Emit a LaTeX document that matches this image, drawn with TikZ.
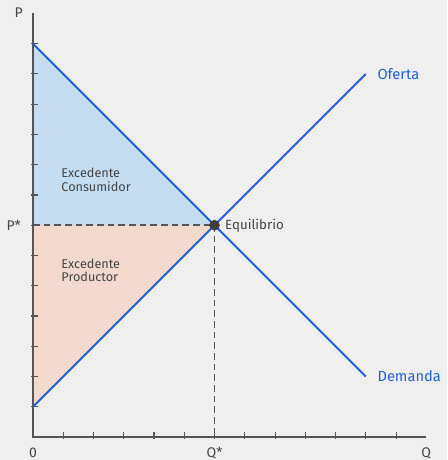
\documentclass[tikz,border=0pt]{standalone}
\usepackage{fontspec}
\setmainfont{Fira Sans}
\usepackage{tikz}

\definecolor{bgcol}{HTML}{EFEFEF}
\definecolor{curvecol}{HTML}{1F5FE0}
\definecolor{axiscol}{HTML}{555555}
\definecolor{txtcol}{HTML}{444444}
\definecolor{cscol}{HTML}{C4DDF0}
\definecolor{pscol}{HTML}{F2D8CD}

\begin{document}
\begin{tikzpicture}[x=22.69pt,y=22.69pt,
  axis/.style={draw=axiscol,line width=1.1pt},
  tick/.style={draw=axiscol,line width=0.8pt},
  curve/.style={draw=curvecol,line width=1.5pt},
  guide/.style={draw=axiscol,line width=1.1pt,dash pattern=on 5pt off 3pt},
  lbl/.style={text=txtcol,font=\fontsize{10.5}{12}\selectfont,inner sep=1pt},
  area/.style={text=txtcol,font=\fontsize{9.5}{10}\selectfont,align=left,anchor=west,inner sep=0pt},
  curvelbl/.style={text=curvecol,font=\fontsize{11}{12}\selectfont,anchor=west,inner sep=0pt}]
\fill[bgcol] (-1.091,-0.760) rectangle (13.685,14.445);
\useasboundingbox (-1.091,-0.760) rectangle (13.685,14.445);

% points
\coordinate (o) at (0,0);
\coordinate (ptop) at (0,13);
\coordinate (pstar) at (0,7);
\coordinate (pbot) at (0,1);
\coordinate (qstar) at (6,0);
\coordinate (dend) at (11,2);
\coordinate (send) at (11,12);
\coordinate (yend) at (0,14);
\coordinate (xend) at (13,0);

% surplus areas
\fill[cscol] (ptop)--(pstar)--(6,7)--cycle;
\fill[pscol] (pstar)--(6,7)--(pbot)--cycle;

% ticks
\foreach \i in {1,...,12} \draw[tick] (\i,-0.05)--(\i,0.18);
\foreach \j in {1,...,13} \draw[tick] (-0.05,\j)--(0.15,\j);

% axes
\draw[axis] (yend)--(o)--(xend);

\coordinate (eqpt) at (6,7);
\draw[guide] (pstar)--(eqpt)--(qstar);

\draw[curve] (ptop)--(dend);
\draw[curve] (pbot)--(send);

\node[circle,fill=txtcol!90!black,inner sep=0pt,minimum size=8pt] (eq) at (eqpt) {};

\node[curvelbl] (oferta) at (11.38,12) {Oferta};
\node[curvelbl] (demanda) at (11.38,2) {Demanda};
\node[lbl,anchor=west,font=\fontsize{10}{12}\selectfont] (eqlbl) at (6.3,7) {Equilibrio};
\node[area] (cons) at (0.93,8.5) {Excedente\\Consumidor};
\node[area] (prod) at (0.93,5.52) {Excedente\\Productor};

\node[lbl] (plbl) at (-0.47,14.04) {P};
\node[lbl] (pslbl) at (-0.64,7) {P*};
\node[lbl] (zero) at (0,-0.53) {0};
\node[lbl] (qslbl) at (6,-0.53) {Q*};
\node[lbl] (qlbl) at (13,-0.53) {Q};
\end{tikzpicture}
\end{document}
